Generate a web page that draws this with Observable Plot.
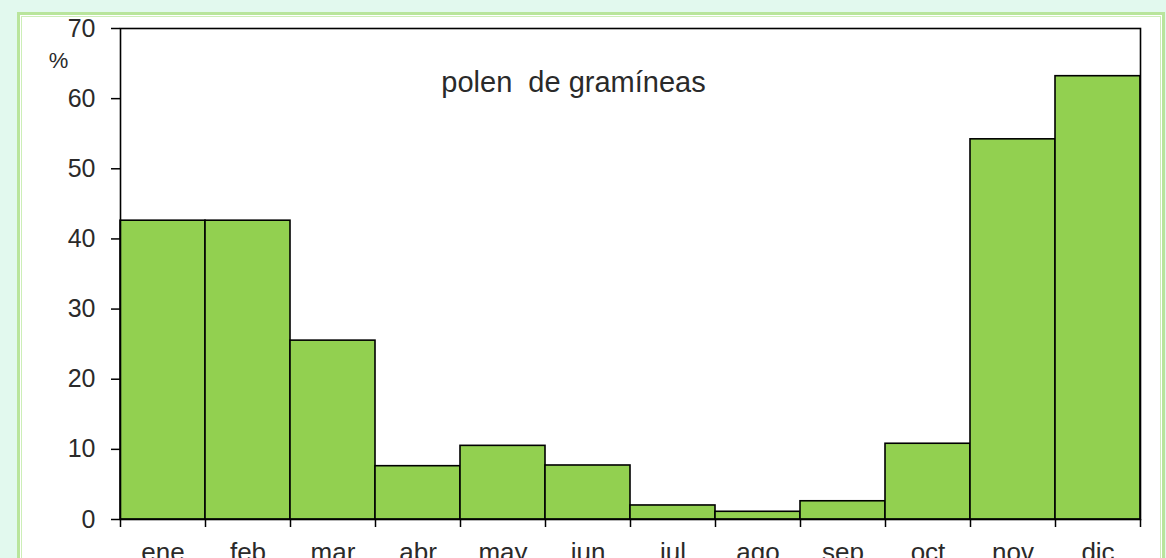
<!DOCTYPE html>
<html><head><meta charset="utf-8">
<script src="https://cdn.jsdelivr.net/npm/d3@7"></script>
<script src="https://cdn.jsdelivr.net/npm/@observablehq/plot@0.6"></script>
<style>
html,body{margin:0;padding:0;width:1166px;height:558px;overflow:hidden;background:#e2f9ee;}
#box{position:absolute;left:17px;top:12px;width:1142px;height:600px;background:#fff;border:3px solid #b9e59c;box-shadow:inset 0 0 0 1px #fff, inset 0 0 0 2px #cdeeb8;}
#chart{position:absolute;left:0;top:0;}
</style></head><body><div id="box"></div><div id="chart"></div>
<script>
const months = ["ene","feb","mar","abr","may","jun","jul","ago","sep","oct","nov","dic"];
const values = [42.6,42.6,25.5,7.6,10.5,7.7,2.0,1.1,2.6,10.8,54.2,63.2];
const yTicks = [0,10,20,30,40,50,60,70];
const title = "polen  de gramíneas";
const yLabel = "%";

const data = months.map((m,i)=>({m, i, v: values[i]}));
const font = "'Liberation Sans', Arial, sans-serif";

const plot = Plot.plot({
  width:1166, height:558,
  marginLeft:120, marginRight:26, marginTop:28, marginBottom:39,
  style:{fontFamily:font, fontSize:"25px", color:"#2a2a2a", background:"transparent", overflow:"visible"},
  x:{domain:[0,12], axis:null},
  y:{domain:[0,70], axis:null},
  marks:[
    Plot.rectY(data,{x1:"i", x2:d=>d.i+1, y1:0, y2:"v", fill:"#92d050", stroke:"#000", strokeWidth:1.6}),
    Plot.frame({stroke:"#000", strokeWidth:1.6}),
    Plot.axisY({ticks:yTicks, tickSize:9, tickPadding:16, label:null, fontSize:25, stroke:"#000", strokeWidth:1.5}),
    Plot.axisX({ticks:d3.range(13), tickSize:8, tickFormat:()=>"", label:null, stroke:"#000", strokeWidth:1.5}),
    Plot.text(data,{x:d=>d.i+0.5, frameAnchor:"bottom", lineAnchor:"bottom", dy:41, text:"m", fontSize:26, fill:"#2a2a2a"}),
    Plot.text([title],{frameAnchor:"top", dx:-57, dy:54, lineAnchor:"middle", text:d=>d, fontSize:29, fill:"#2a2a2a"}),
    Plot.text([yLabel],{frameAnchor:"top-left", textAnchor:"middle", dx:-62, dy:32, lineAnchor:"middle", text:d=>d, fontSize:22, fill:"#2a2a2a"})
  ]
});
document.getElementById("chart").append(plot);
</script>
</body></html>
